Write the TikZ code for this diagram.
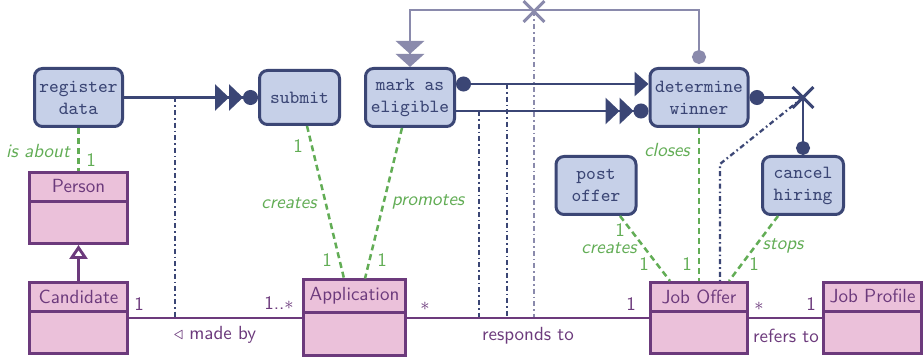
\documentclass[tikz,border=0pt]{standalone}
\usepackage{fontspec}
\usetikzlibrary{arrows.meta,calc,shapes.misc}
\definecolor{navy}{HTML}{3B4675}
\definecolor{actfill}{HTML}{C6D0E8}
\definecolor{purp}{HTML}{6C3A7C}
\definecolor{clsfill}{HTML}{EBC1DA}
\definecolor{grn}{HTML}{62AD55}
\definecolor{lightc}{HTML}{8A8AAC}
\begin{document}
\begin{tikzpicture}[x=0.5pt,y=-0.5pt,
  act/.style={draw=navy, fill=actfill, line width=1.5pt, rounded corners=4pt, text=navy,
    font=\fontsize{9.3}{11}\selectfont\ttfamily, align=center, inner sep=0pt},
  cls/.style={draw=purp, fill=clsfill, line width=1.5pt, inner sep=0pt},
  cdiv/.style={draw=purp, line width=1.5pt},
  clsname/.style={text=purp, font=\fontsize{9.5}{11}\selectfont\sffamily, inner sep=0pt},
  flow/.style={draw=navy, line width=1.45pt},
  lightflow/.style={draw=lightc, line width=1.45pt},
  dbl/.style={-{Triangle[length=7pt,width=13pt,sep=0pt]Triangle[length=7pt,width=13pt,sep=0pt]Circle[length=7.5pt,sep=0pt]}},
  rel/.style={draw=purp, line width=1.45pt},
  assoc/.style={draw=grn, line width=1.25pt, dash pattern=on 3pt off 2pt},
  ddot/.style={draw=navy, line width=1.15pt, dash pattern=on 2.5pt off 1.5pt on 0.8pt off 1.5pt},
  lddot/.style={draw=lightc, line width=1.15pt, dash pattern=on 2.5pt off 1.5pt on 0.8pt off 1.5pt},
  glabel/.style={text=grn, font=\fontsize{9.5}{11}\selectfont\sffamily\itshape, inner sep=0pt},
  gnum/.style={text=grn, font=\fontsize{9.5}{11}\selectfont\sffamily, inner sep=0pt},
  plabel/.style={text=purp, font=\fontsize{9.5}{11}\selectfont\sffamily, inner sep=0pt},
  xmark/.style={cross out, draw=navy, line width=1.45pt, minimum size=9pt, inner sep=0pt},
  lxmark/.style={cross out, draw=lightc, line width=1.45pt, minimum size=9pt, inner sep=0pt}
]
\fill[white] (0,0) rectangle (924,362);
\useasboundingbox (0,0) rectangle (924,362);

% activity nodes
\node[act, minimum width=44pt, minimum height=29pt] (reg) at (78.5,97.5) {register\\data};
\node[act, minimum width=40pt, minimum height=27pt] (submit) at (299.5,97.5) {submit};
\node[act, minimum width=44.5pt, minimum height=29pt] (mark) at (410,97.5) {mark as\\eligible};
\node[act, minimum width=49pt, minimum height=29pt] (winner) at (699,97.5) {determine\\winner};
\node[act, minimum width=40pt, minimum height=29pt] (post) at (596,185.5) {post\\offer};
\node[act, minimum width=40.5pt, minimum height=29pt] (cancel) at (803,185.5) {cancel\\hiring};

% class boxes
\node[cls, minimum width=49pt, minimum height=35.5pt] (person) at (78.5,208) {};
\draw[cdiv] (person.west |- 0,202) -- (person.east |- 0,202);
\node[clsname] at (78.5,186.5) {Person};

\node[cls, minimum width=49pt, minimum height=35.5pt] (cand) at (78.5,318) {};
\draw[cdiv] (cand.west |- 0,312) -- (cand.east |- 0,312);
\node[clsname] at (78.5,296.5) {Candidate};

\node[cls, minimum width=51pt, minimum height=38pt] (app) at (354.5,318) {};
\draw[cdiv] (app.west |- 0,313) -- (app.east |- 0,313);
\node[clsname] at (354.5,296) {Application};

\node[cls, minimum width=48.5pt, minimum height=35.5pt] (jo) at (699,318) {};
\draw[cdiv] (jo.west |- 0,312) -- (jo.east |- 0,312);
\node[clsname] at (699,296.5) {Job Offer};

\node[cls, minimum width=49pt, minimum height=35.5pt] (prof) at (872.5,318) {};
\draw[cdiv] (prof.west |- 0,312) -- (prof.east |- 0,312);
\node[clsname] at (872.5,296.5) {Job Profile};

% coordinates
\coordinate (a1) at (175,97.5);  \coordinate (a2) at (175,318);
\coordinate (b1) at (479,111);   \coordinate (b2) at (479,318);
\coordinate (c1) at (507,84);    \coordinate (c2) at (507,318);
\coordinate (e2) at (534,318);
\coordinate (bend) at (720,164);

% crosses
\node[xmark] (X) at (803,97.5) {};
\node[lxmark] (XL) at (534,11.5) {};

% dash-dot lines
\draw[ddot] (a1) -- (a2);
\draw[ddot] (b1) -- (b2);
\draw[ddot] (c1) -- (c2);
\draw[lddot] (XL.center) -- (e2);
\draw[ddot] (X.center) -- (bend) -- (jo.north -| bend);

% associations (UML)
\draw[rel] (cand) -- (app);
\draw[rel] (app) -- (jo);
\draw[rel] (jo) -- (prof);
\draw[rel, -{Triangle[open, length=7pt, width=9pt]}] (cand) -- (person);

% control flow
\draw[flow, dbl] (reg) -- (submit);
\draw[flow, {Circle[length=7.5pt]}-{Triangle[length=7pt,width=12pt]}] ([yshift=6.75pt]mark.east) -- ([yshift=6.75pt]winner.west);
\draw[flow, dbl] ([yshift=-6.75pt]mark.east) -- ([yshift=-6.75pt]winner.west);
\draw[flow, {Circle[length=7.5pt]}-] (winner.east) -- (X.center);
\draw[flow, -{Circle[length=7pt]}] (X.center) -- (cancel.north);
\draw[lightflow, shorten <=1.5pt, {Circle[length=7pt]}-{Triangle[length=6.5pt,width=14pt,sep=0pt]Triangle[length=6.5pt,width=14pt]}] (winner.north) -- ++(0,-57) -| (mark.north);

% green associations
\draw[assoc] (reg) -- (person);
\draw[assoc] ([xshift=3.75pt]submit.south) -- ([xshift=-5.25pt]app.north);
\draw[assoc] ([xshift=-4pt]mark.south) -- ([xshift=5.25pt]app.north);
\draw[assoc] ([xshift=12pt]post.south) -- ([xshift=-14.5pt]jo.north);
\draw[assoc] (winner) -- (jo);
\draw[assoc] ([xshift=-12.5pt]cancel.south) -- ([xshift=15pt]jo.north);

% green labels
\node[glabel] (l1) at (38,151) {is about};
\node[gnum] (l2) at (91,160) {1};
\node[gnum] (l3) at (298,146) {1};
\node[glabel] (l4) at (289,203) {creates};
\node[gnum] (l5) at (327,260) {1};
\node[gnum] (l6) at (382,260) {1};
\node[glabel] (l7) at (428,202) {promotes};
\node[gnum] (l8) at (620,230) {1};
\node[glabel] (l9) at (609,248.5) {creates};
\node[gnum] (l10) at (644,264) {1};
\node[gnum] (l11) at (687,264) {1};
\node[glabel] (l12) at (667,150) {closes};
\node[glabel] (l13) at (783,246) {stops};
\node[gnum] (l14) at (754,264) {1};

% purple labels
\node[plabel] (p1) at (139,304) {1};
\node[plabel] (p2) at (279,303) {1..$\ast$};
\node[plabel] (p3) at (215,335) {$\triangleleft$ made by};
\node[plabel] (p4) at (425,306) {$\ast$};
\node[plabel] (p5) at (528,336) {responds to};
\node[plabel] (p6) at (631,304) {1};
\node[plabel] (p7) at (759,306) {$\ast$};
\node[plabel] (p8) at (811,304) {1};
\node[plabel] (p9) at (786,336) {refers to};
\end{tikzpicture}
\end{document}
